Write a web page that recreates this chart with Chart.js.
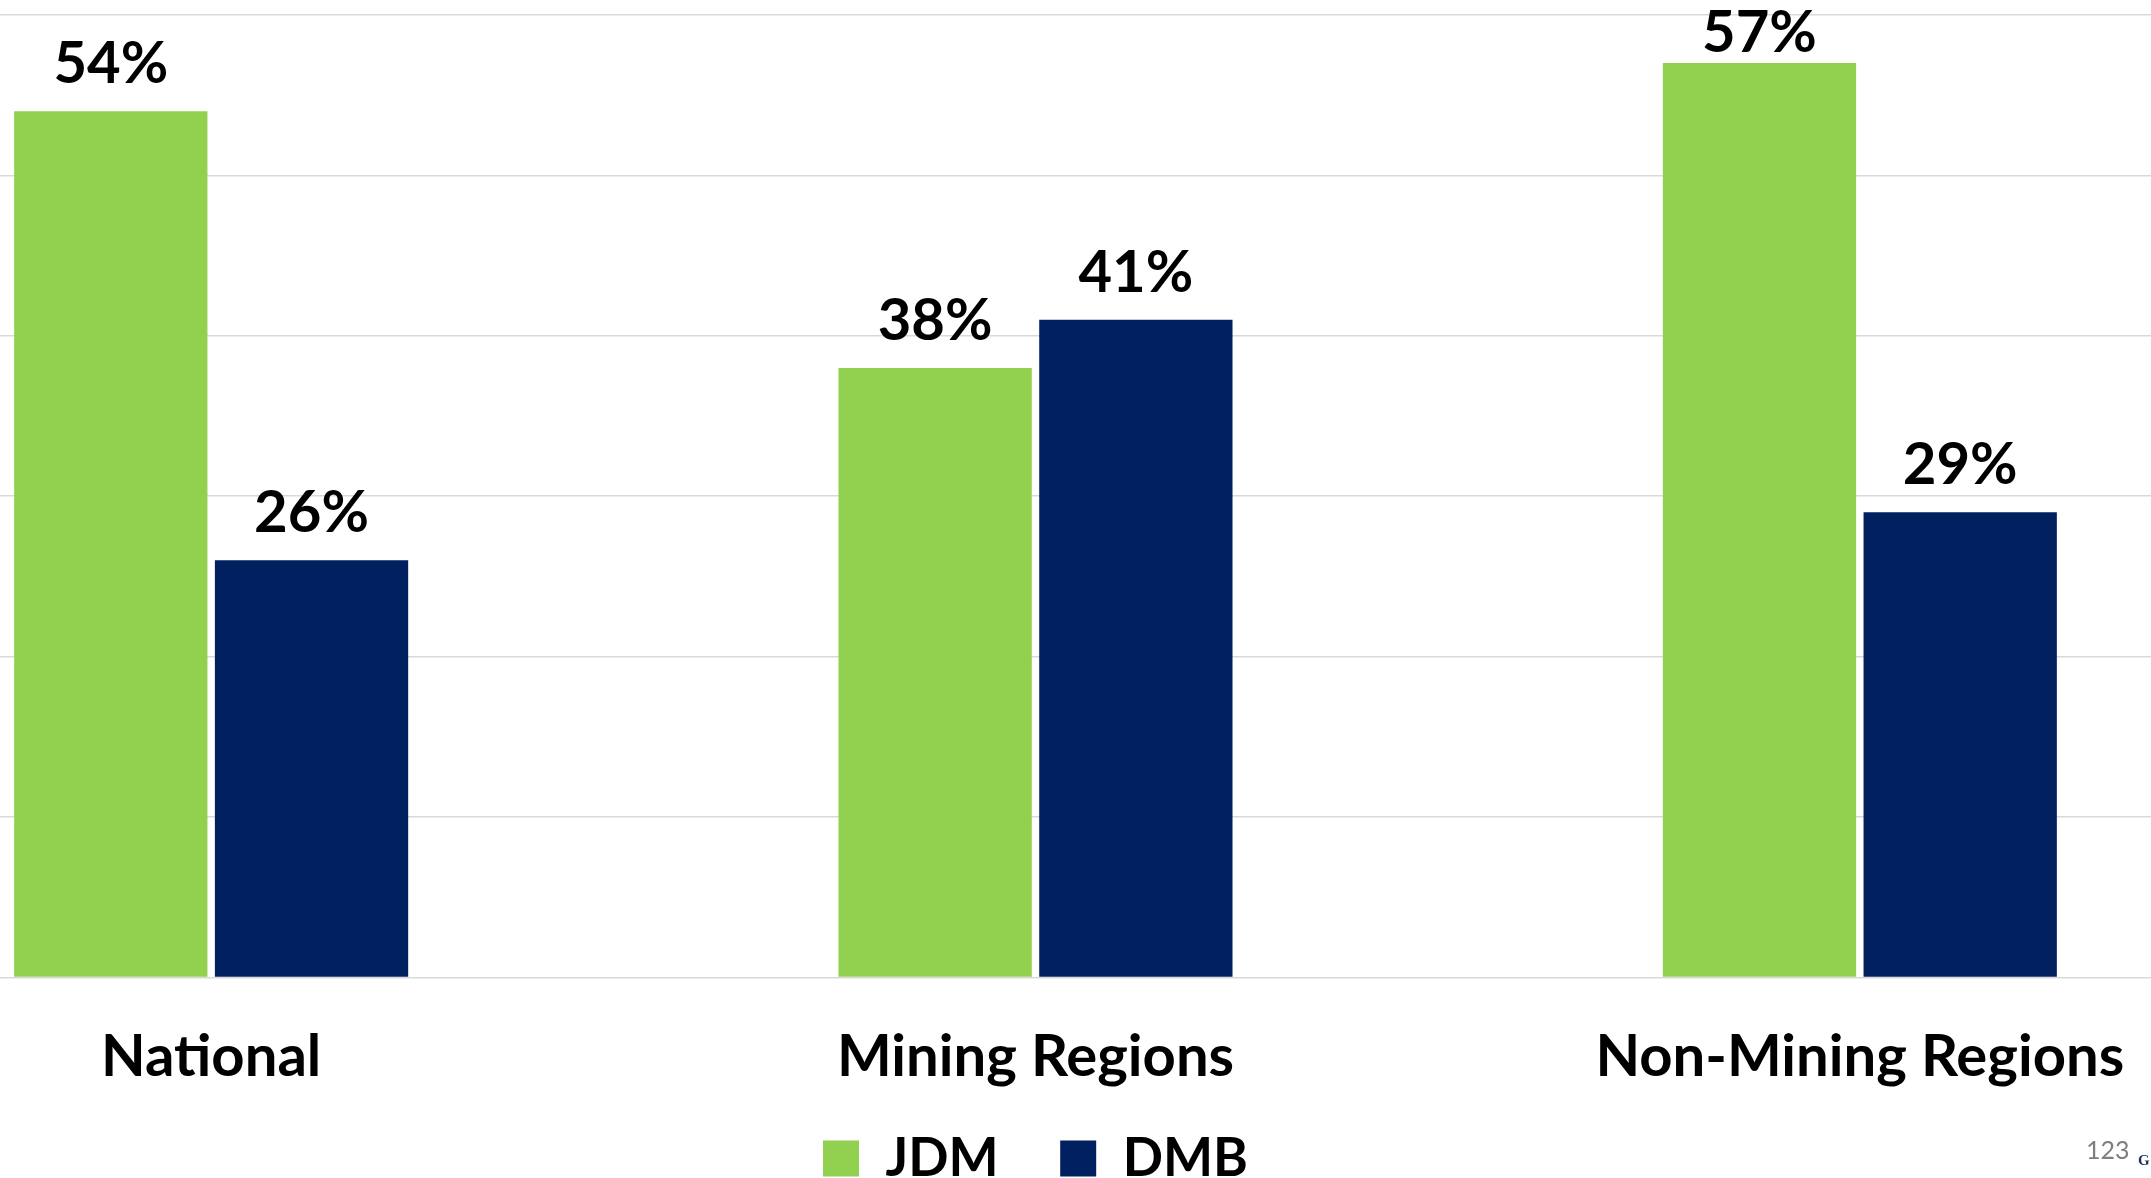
<!DOCTYPE html>
<html>
<head>
<meta charset="utf-8">
<script src="https://cdn.jsdelivr.net/npm/chart.js@4.4.1/dist/chart.umd.min.js"></script>
<style>
  html, body { margin: 0; padding: 0; background: #fff; overflow: hidden; width: 2151px; height: 1178px; }
  #wrap { position: absolute; left: -201px; top: 0; width: 2473px; height: 1195px; }
  #pageNo { position: absolute; left: 2086px; top: 1134px; font: 25px Lato, sans-serif; color: #7f7f7f; }
  #mark { position: absolute; left: 2138px; top: 1152px; font: bold 15px "Liberation Serif", serif; color: #1f2f5f; }
</style>
</head>
<body>
<div id="wrap"><canvas id="chart" width="2473" height="1195"></canvas></div>
<div id="pageNo">123</div>
<div id="mark">G</div>
<script>
const categories = ['National', 'Mining Regions', 'Non-Mining Regions'];
const jdmValues = [54, 38, 57];
const dmbValues = [26, 41, 29];
const seriesNames = ['JDM', 'DMB'];
const seriesColors = ['#92D050', '#002060'];

// value labels above each bar
const barLabels = {
  id: 'barLabels',
  afterDatasetsDraw(chart) {
    const ctx = chart.ctx;
    ctx.save();
    ctx.font = 'bold 58px Lato';
    ctx.fillStyle = '#000';
    ctx.textAlign = 'center';
    ctx.textBaseline = 'alphabetic';
    chart.data.datasets.forEach((ds, i) => {
      chart.getDatasetMeta(i).data.forEach((bar, j) => {
        // keep the top label inside the canvas, like the original
        ctx.fillText(ds.data[j] + '%', bar.x, Math.max(bar.y - 28, 52));
      });
    });
    ctx.restore();
  }
};

new Chart(document.getElementById('chart'), {
  type: 'bar',
  data: {
    labels: categories,
    datasets: [
      { label: seriesNames[0], data: jdmValues, backgroundColor: seriesColors[0] },
      { label: seriesNames[1], data: dmbValues, backgroundColor: seriesColors[1] }
    ]
  },
  options: {
    responsive: false,
    animation: false,
    categoryPercentage: 0.487,
    barPercentage: 0.963,
    layout: { padding: { top: 15, left: 0, right: 0, bottom: 0 } },
    plugins: {
      legend: {
        position: 'bottom',
        labels: {
          color: '#000',
          font: { family: 'Lato', size: 53, weight: 'bold' },
          boxWidth: 36,
          boxHeight: 36,
          padding: 10,
          // wider gap between the two legend entries
          generateLabels(chart) {
            const items = Chart.defaults.plugins.legend.labels.generateLabels(chart);
            items.forEach((it, i) => { if (i < items.length - 1) it.text += '    '; });
            return items;
          }
        }
      },
      tooltip: { enabled: false }
    },
    scales: {
      x: {
        grid: { display: false, tickLength: 15 },
        border: { display: false },
        ticks: {
          color: '#000',
          padding: 30,
          font: { family: 'Lato', size: 58, weight: 'bold', lineHeight: 1.2 }
        }
      },
      y: {
        min: 0,
        max: 60,
        ticks: { display: false, stepSize: 10 },
        border: { display: false },
        grid: { color: '#d9d9d9', lineWidth: 1.5, drawTicks: false }
      }
    }
  },
  plugins: [barLabels]
});
</script>
</body>
</html>
